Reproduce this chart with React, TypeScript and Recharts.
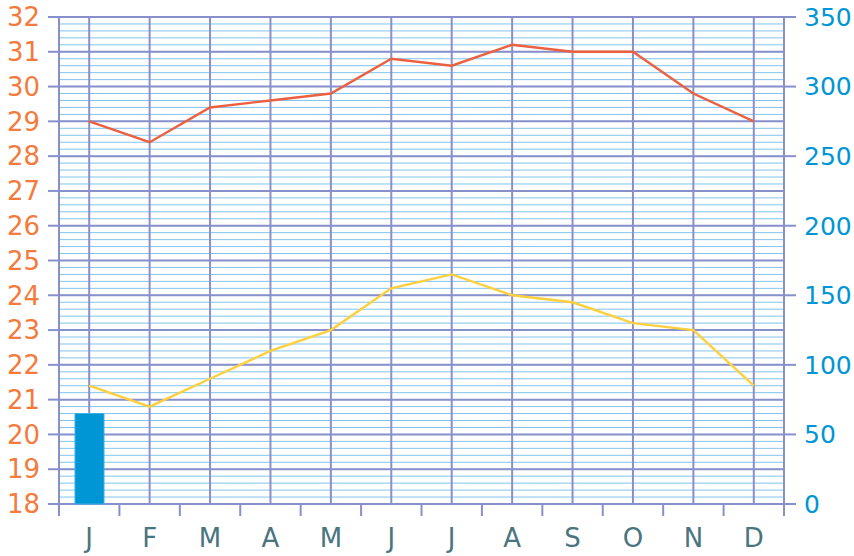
import React from 'react';
import { ComposedChart, Bar, Line, XAxis, YAxis, CartesianGrid } from 'recharts';

const months = ['J', 'F', 'M', 'A', 'M', 'J', 'J', 'A', 'S', 'O', 'N', 'D'];
const maxTemp = [29.0, 28.4, 29.4, 29.6, 29.8, 30.8, 30.6, 31.2, 31.0, 31.0, 29.8, 29.0];
const minTemp = [21.4, 20.8, 21.6, 22.4, 23.0, 24.2, 24.6, 24.0, 23.8, 23.2, 23.0, 21.4];
const rain = [65, 0, 0, 0, 0, 0, 0, 0, 0, 0, 0, 0];

const leftTicks = [18, 19, 20, 21, 22, 23, 24, 25, 26, 27, 28, 29, 30, 31, 32];
const rightTicks = [0, 50, 100, 150, 200, 250, 300, 350];
const minorTicks = Array.from({ length: 71 }, (_, i) => Math.round((18 + i * 0.2) * 10) / 10);
const LEFT_MIN = 18;
const LEFT_MAX = 32;

const data = months.map((m, i) => ({
  m,
  max: maxTemp[i],
  min: minTemp[i],
  rain: rain[i],
}));

const GRID = '#8890cc';
const MINOR = '#80c4ec';
const FONT = 'DejaVu Sans';

const CHART_W = 854;
const LEFT_W = 59;
const RIGHT_W = 70;
const BAND = (CHART_W - LEFT_W - RIGHT_W) / months.length;

const MonthTick = (props: any) => {
  const { x, y, payload, index } = props;
  const left = x - BAND / 2;
  const right = x + BAND / 2;
  return (
    <g>
      <line x1={left} x2={left} y1={y - 25} y2={y - 13} stroke={GRID} strokeWidth={2} />
      {index === months.length - 1 && (
        <line x1={right} x2={right} y1={y - 25} y2={y - 13} stroke={GRID} strokeWidth={2} />
      )}
      <text
        x={x}
        y={y}
        dy="0.71em"
        textAnchor="middle"
        fill="#4a7580"
        fontSize={26}
        fontFamily={FONT}
      >
        {payload.value}
      </text>
    </g>
  );
};

const minorGen = (args: any) => {
  const yAxis = args && args.yAxis;
  if (yAxis && typeof yAxis.scale === 'function') {
    return minorTicks.map((v) => yAxis.scale(v));
  }
  if (yAxis && yAxis.scale && typeof yAxis.scale.map === 'function') {
    return minorTicks.map((v) => yAxis.scale.map(v));
  }
  const off = args.offset;
  return minorTicks.map(
    (v) => off.top + ((LEFT_MAX - v) / (LEFT_MAX - LEFT_MIN)) * off.height
  );
};

export default function App() {
  return (
    <div style={{ position: 'absolute', left: 0, top: 0 }}>
      <ComposedChart
        width={CHART_W}
        height={556}
        data={data}
        margin={{ top: 17, right: 0, bottom: 0, left: 0 }}
      >
        <XAxis
          dataKey="m"
          height={52}
          axisLine={false}
          tickLine={false}
          tickSize={0}
          tickMargin={25}
          interval={0}
          tick={<MonthTick />}
        />
        <YAxis
          yAxisId="l"
          orientation="left"
          width={LEFT_W}
          domain={[LEFT_MIN, LEFT_MAX]}
          ticks={leftTicks}
          interval={0}
          axisLine={{ stroke: GRID, strokeWidth: 2 }}
          tickLine={{ stroke: GRID, strokeWidth: 2 }}
          tickSize={11}
          tickMargin={8}
          tick={{ fill: '#f47b3c', fontSize: 26, fontFamily: FONT }}
        />
        <YAxis
          yAxisId="r"
          orientation="right"
          width={RIGHT_W}
          domain={[0, 350]}
          ticks={rightTicks}
          interval={0}
          axisLine={{ stroke: GRID, strokeWidth: 2 }}
          tickLine={{ stroke: GRID, strokeWidth: 2 }}
          tickSize={12}
          tickMargin={8}
          tick={{ fill: '#0096d6', fontSize: 25, fontFamily: FONT }}
        />
        <CartesianGrid
          yAxisId="l"
          vertical={false}
          stroke={MINOR}
          strokeWidth={1}
          horizontalCoordinatesGenerator={minorGen}
        />
        <CartesianGrid yAxisId="l" stroke={GRID} strokeWidth={2} />
        <Bar
          yAxisId="r"
          dataKey="rain"
          fill="#0096d6"
          stroke="#3cb0e6"
          strokeWidth={1}
          barSize={29}
          isAnimationActive={false}
        />
        <Line
          yAxisId="l"
          dataKey="max"
          stroke="#ec6040"
          strokeWidth={2.4}
          dot={false}
          isAnimationActive={false}
        />
        <Line
          yAxisId="l"
          dataKey="min"
          stroke="#ffd03c"
          strokeWidth={2.4}
          dot={false}
          isAnimationActive={false}
        />
      </ComposedChart>
    </div>
  );
}
